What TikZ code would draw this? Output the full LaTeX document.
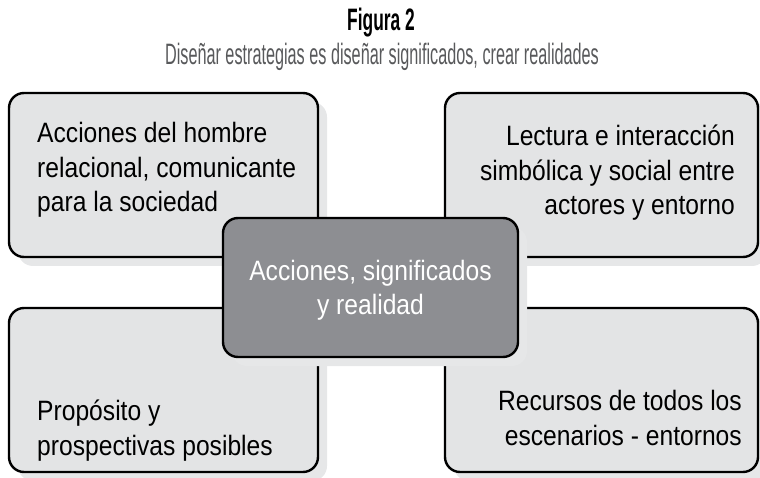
\documentclass[tikz,border=0pt]{standalone}
\usepackage{fontspec}
\usepackage{tikz}
\usetikzlibrary{positioning, shadows}
\newfontfamily\boxfont{Liberation Sans}[FakeStretch=0.88]
\newfontfamily\titlefont{Liberation Sans}[FakeStretch=0.56]
\newfontfamily\subtitlefont{Liberation Sans}[FakeStretch=0.55]
\definecolor{boxgray}{RGB}{227,228,229}
\definecolor{coregray}{RGB}{141,142,146}
\definecolor{shadowgray}{RGB}{230,231,232}
\definecolor{subgray}{RGB}{88,89,91}

\begin{document}
\begin{tikzpicture}[x=1pt, y=-1pt,
     base/.style = {draw, line width=2.4pt, rounded corners=15pt,
                    inner sep=0pt, outer sep=0pt,
                    drop shadow={shadow xshift=9pt, shadow yshift=-9pt,
                                 fill=shadowgray, opacity=1}},
   corner/.style = {base, fill=boxgray, minimum height=164pt},
     core/.style = {base, fill=coregray, text=white, align=center,
                    minimum width=295pt, minimum height=139pt, text depth=0pt,
                    font=\boxfont\fontsize{28}{34}\selectfont},
  boxtext/.style = {inner sep=0pt, font=\boxfont\fontsize{28}{34.5}\selectfont}
                    ]
\useasboundingbox (0,0) rectangle (760,478);
 % heading
\node (title)    [anchor=base, font=\titlefont\bfseries\fontsize{31}{34}\selectfont]
                 at (381,31) {Figura 2};
\node (subtitle) [anchor=base, text=subgray, font=\subtitlefont\fontsize{29.5}{34}\selectfont]
                 at (382,65) {Diseñar estrategias es diseñar significados, crear realidades};
 % four boxes
\node (tl) [corner, minimum width=309pt] at (163.5,175) {};
\node (tr) [corner, minimum width=313pt] at (601.5,175) {};
\node (bl) [corner, minimum width=309pt] at (163.5,390) {};
\node (br) [corner, minimum width=313pt] at (601.5,390) {};
 % texts, anchored at their last line
\node (tltext) [boxtext, align=left,  anchor=base west] at ([shift={(28,119)}]tl.north west)
               {Acciones del hombre\\relacional, comunicante\\para la sociedad};
\node (trtext) [boxtext, align=right, anchor=base east] at ([shift={(-23,122)}]tr.north east)
               {Lectura e interacción\\simbólica y social entre\\actores y entorno};
\node (bltext) [boxtext, align=left,  anchor=base west] at ([shift={(28,-17)}]bl.south west)
               {Propósito y\\prospectivas posibles};
\node (brtext) [boxtext, align=right, anchor=base east] at ([shift={(-16,-27)}]br.south east)
               {Recursos de todos los\\escenarios - entornos};
 % middle
\node (core) [core] at (370.5,287.5) {Acciones, significados\\y realidad};
\end{tikzpicture}
\end{document}
